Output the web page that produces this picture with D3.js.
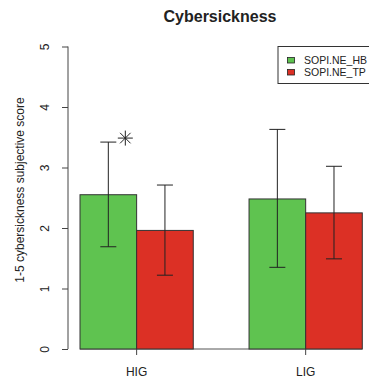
<!DOCTYPE html>
<html>
<head>
<meta charset="utf-8">
<script src="https://cdn.jsdelivr.net/npm/d3@7"></script>
<style>
  body { margin: 0; background: #fff; }
  text { font-family: "Liberation Sans", Arial, sans-serif; fill: #222; }
  .axis path, .axis line { stroke: #444; }
</style>
</head>
<body>
<svg id="chart"></svg>
<script>
var width = 369;
var height = 381;

// data
var groups = ["HIG", "LIG"];
var series = ["SOPI.NE_HB", "SOPI.NE_TP"];
var means = [[2.55, 1.96], [2.48, 2.25]];
var lower = [[1.69, 1.22], [1.35, 1.49]];
var upper = [[3.42, 2.71], [3.63, 3.02]];
var colors = ["#5fc350", "#dc3025"];
var yTicks = [0, 1, 2, 3, 4, 5];

var svg = d3.select("svg#chart")
  .attr("width", width)
  .attr("height", height);

var yScale = d3.scaleLinear()
  .domain([0, 5])
  .range([349, 46.5]);

var xScale = d3.scaleBand()
  .domain(groups)
  .range([80, 362.3])
  .paddingInner(0.33)
  .paddingOuter(0);

var xSub = d3.scaleBand()
  .domain(series)
  .range([0, xScale.bandwidth()]);

// title
svg.append("text")
  .attr("x", 220)
  .attr("y", 22)
  .style("text-anchor", "middle")
  .style("font-weight", "bold")
  .style("font-size", "16px")
  .text("Cybersickness");

// y axis, rotated labels like R
var yAxis = d3.axisLeft(yScale)
  .tickValues(yTicks)
  .tickFormat(d3.format("d"))
  .tickSize(6)
  .tickPadding(4);

var gy = svg.append("g")
  .attr("class", "axis")
  .attr("transform", "translate(68,0)")
  .call(yAxis);
gy.select(".domain").attr("d", "M0," + yScale(5) + "V" + yScale(0));
gy.selectAll(".tick text")
  .attr("x", 0)
  .attr("dy", 0)
  .attr("transform", "translate(-19,0) rotate(-90)")
  .style("text-anchor", "middle")
  .style("font-size", "12px")
  .style("font-family", "Liberation Sans, Arial, sans-serif")
  .attr("fill", "#222");

svg.append("text")
  .attr("transform", "translate(24,190) rotate(-90)")
  .style("text-anchor", "middle")
  .style("font-size", "12px")
  .text("1-5 cybersickness subjective score");

// baseline
svg.append("line")
  .attr("x1", xScale("HIG"))
  .attr("x2", xScale("LIG") + xScale.bandwidth())
  .attr("y1", yScale(0))
  .attr("y2", yScale(0))
  .attr("stroke", "#555");

// bars
var gGroups = svg.selectAll("g.group")
  .data(groups)
  .enter()
  .append("g")
  .attr("class", "group")
  .attr("transform", function(d) { return "translate(" + xScale(d) + ",0)"; });

gGroups.selectAll("rect")
  .data(function(d, i) { return means[i]; })
  .enter()
  .append("rect")
  .attr("x", function(d, j) { return xSub(series[j]); })
  .attr("y", function(d) { return yScale(d); })
  .attr("width", xSub.bandwidth())
  .attr("height", function(d) { return yScale(0) - yScale(d); })
  .attr("fill", function(d, j) { return colors[j]; })
  .attr("stroke", "#333")
  .attr("stroke-width", 1);

// error bars
var capHalf = 8;
gGroups.each(function(g, i) {
  var grp = d3.select(this);
  series.forEach(function(s, j) {
    var cx = xSub(s) + xSub.bandwidth() / 2;
    var yl = yScale(lower[i][j]), yu = yScale(upper[i][j]);
    var eb = grp.append("g").attr("stroke", "#222").attr("stroke-width", 1);
    eb.append("line").attr("x1", cx).attr("x2", cx).attr("y1", yl).attr("y2", yu);
    eb.append("line").attr("x1", cx - capHalf).attr("x2", cx + capHalf).attr("y1", yl).attr("y2", yl);
    eb.append("line").attr("x1", cx - capHalf).attr("x2", cx + capHalf).attr("y1", yu).attr("y2", yu);
  });
});

// x axis ticks at group centres
var xAxis = d3.axisBottom(xScale).tickSize(6).tickPadding(12);
var gx = svg.append("g")
  .attr("class", "axis")
  .attr("transform", "translate(0," + yScale(0) + ")")
  .call(xAxis);
gx.select(".domain").remove();
gx.selectAll(".tick text")
  .style("font-size", "12px")
  .style("font-family", "Liberation Sans, Arial, sans-serif")
  .attr("fill", "#222");

// significance star (pch 8) next to HIG green upper cap
var starX = xScale("HIG") + xSub(series[0]) + xSub.bandwidth() / 2 + 17;
var starY = yScale(upper[0][0]) - 4;
var r = 7.5;
var star = svg.append("g")
  .attr("transform", "translate(" + starX + "," + starY + ")")
  .attr("stroke", "#222")
  .attr("stroke-width", 1);
[[0, -r, 0, r], [-r, 0, r, 0], [-r * 0.7, -r * 0.7, r * 0.7, r * 0.7], [-r * 0.7, r * 0.7, r * 0.7, -r * 0.7]]
  .forEach(function(p) {
    star.append("line").attr("x1", p[0]).attr("y1", p[1]).attr("x2", p[2]).attr("y2", p[3]);
  });

// legend
var legend = svg.append("g")
  .attr("class", "legend")
  .attr("transform", "translate(278,46.5)");

legend.append("rect")
  .attr("width", 100)
  .attr("height", 37)
  .attr("fill", "#fff")
  .attr("stroke", "#333");

var legEl = legend.selectAll("g.legend_el")
  .data(series)
  .enter()
  .append("g")
  .attr("class", "legend_el")
  .attr("transform", function(d, i) { return "translate(0," + (14 + i * 12) + ")"; });

legEl.append("rect")
  .attr("x", 9.5)
  .attr("y", -3)
  .attr("width", 7)
  .attr("height", 5.5)
  .attr("fill", function(d, i) { return colors[i]; })
  .attr("stroke", "#222")
  .attr("stroke-width", 0.8);

legEl.append("text")
  .attr("x", 26)
  .attr("dy", "0.35em")
  .style("font-size", "10.5px")
  .text(function(d) { return d; });
</script>
</body>
</html>
